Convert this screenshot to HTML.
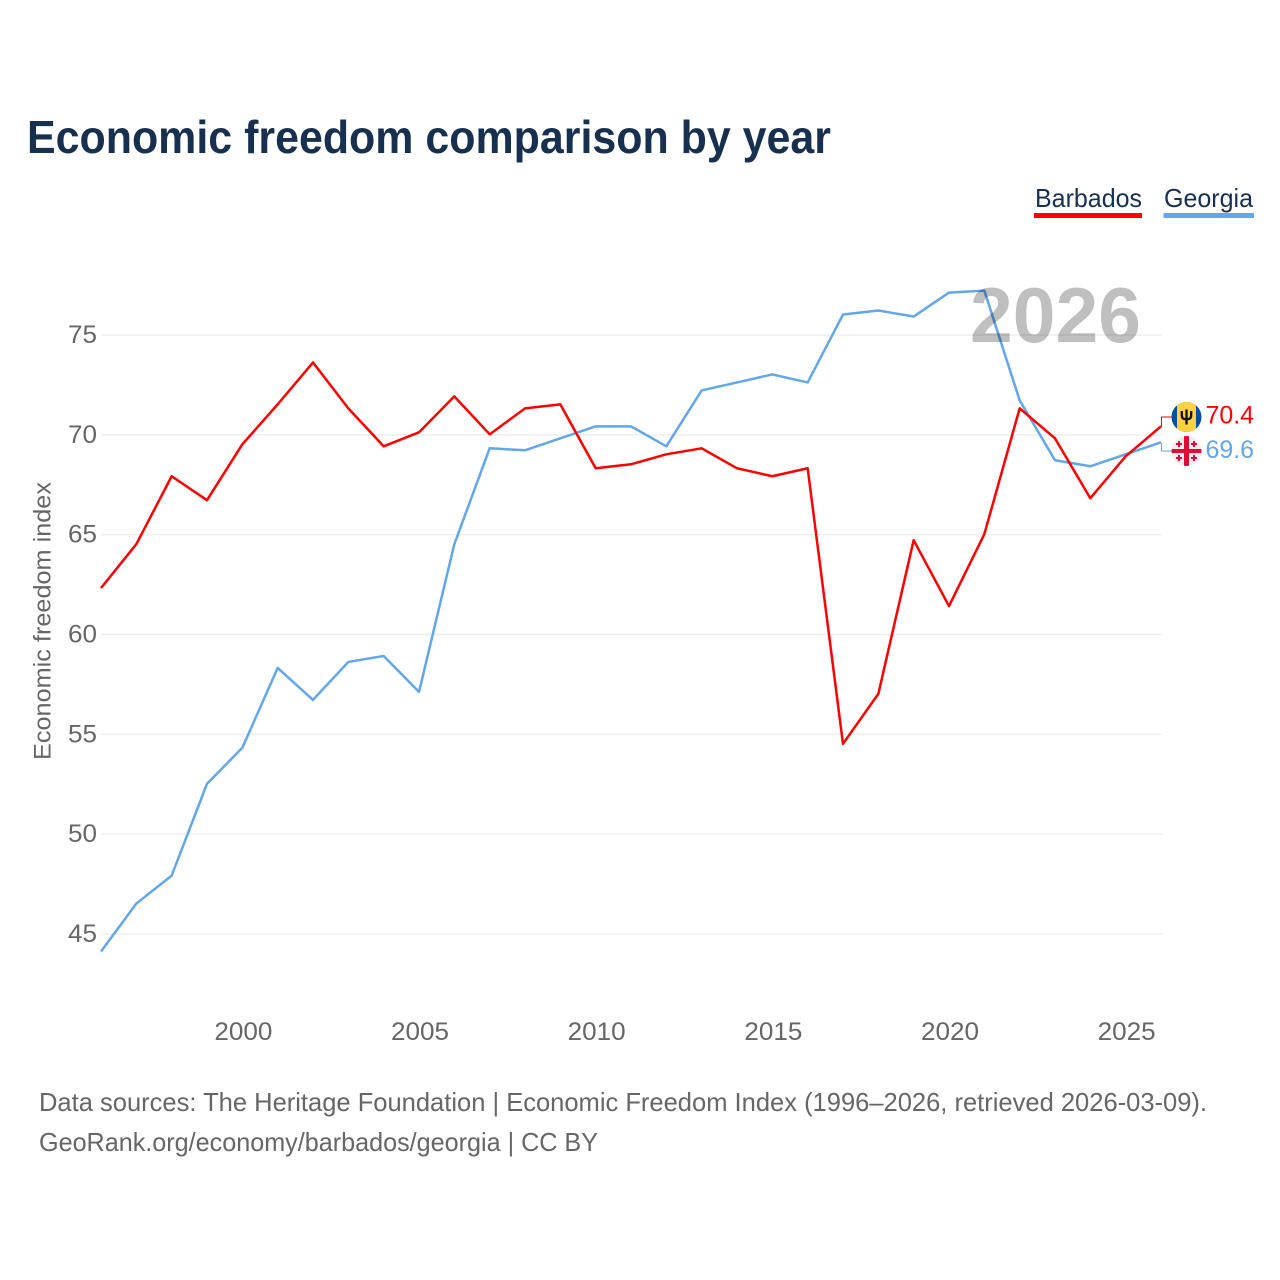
<!DOCTYPE html>
<html lang="en">
<head>
<meta charset="utf-8">
<title>Economic freedom comparison by year</title>
<style>
html,body{margin:0;padding:0;background:#fff;}
svg{display:block;}
text{font-family:"Liberation Sans",sans-serif;}
</style>
</head>
<body>
<svg id="chart" xmlns="http://www.w3.org/2000/svg" width="1280" height="1280" viewBox="0 0 1280 1280">
  <rect x="0" y="0" width="1280" height="1280" fill="#ffffff"/>
  <text x="27" y="153" font-size="46" font-weight="700" fill="#18304f" textLength="804" lengthAdjust="spacingAndGlyphs">Economic freedom comparison by year</text>

  <g>
    <text x="1035" y="207" font-size="26" fill="#18304f" textLength="107" lengthAdjust="spacingAndGlyphs">Barbados</text>
    <rect x="1034" y="213" width="108" height="5" fill="#ff0000"/>
  </g>
  <g>
    <text x="1164" y="207" font-size="26" fill="#18304f" textLength="89" lengthAdjust="spacingAndGlyphs">Georgia</text>
    <rect x="1163.5" y="213" width="90.5" height="5" fill="#62a6ec"/>
  </g>

  <g id="grid"></g>
  <g id="y-ticks"></g>
  <g id="x-ticks"></g>
  <text transform="translate(50.5 621) rotate(-90)" text-anchor="middle" font-size="24" fill="#666666" textLength="278" lengthAdjust="spacingAndGlyphs">Economic freedom index</text>

  <g id="series" transform="translate(-0.5 -0.5)"></g>
  <text x="970" y="342" font-size="78" font-weight="700" fill="#000000" fill-opacity="0.25" textLength="171" lengthAdjust="spacingAndGlyphs">2026</text>
  <g id="end-labels"></g>

  <g>
    <clipPath id="clip-bb"><circle cx="1186.5" cy="417" r="15"/></clipPath>
    <g clip-path="url(#clip-bb)">
      <rect x="1171" y="401" width="31" height="32" fill="#00509f"/>
      <rect x="1177" y="401" width="19" height="32" fill="#ffd23f"/>
      <path d="M1186.5 409.500v15M1181.800 411v4.500q0 3.800 4.700 3.800t4.700-3.800v-4.500" fill="none" stroke="#111111" stroke-width="2.300"/>
    </g>
  </g>
  <g>
    <clipPath id="clip-ge"><circle cx="1186.500" cy="451" r="15"/></clipPath>
    <g clip-path="url(#clip-ge)">
      <rect x="1171" y="435" width="31" height="32" fill="#eeeeee"/>
      <rect x="1184" y="435" width="5" height="32" fill="#e00b35"/>
      <rect x="1171" y="449" width="31" height="4" fill="#e00b35"/>
      <path d="M1178 441h2v2h2v2h-2v2h-2v-2h-2v-2h2zM1193 441h2v2h2v2h-2v2h-2v-2h-2v-2h2zM1178 455h2v2h2v2h-2v2h-2v-2h-2v-2h2zM1193 455h2v2h2v2h-2v2h-2v-2h-2v-2h2z" fill="#e00b35"/>
    </g>
  </g>

  <text x="39" y="1111" font-size="26" fill="#666666" textLength="1168" lengthAdjust="spacingAndGlyphs">Data sources: The Heritage Foundation | Economic Freedom Index (1996–2026, retrieved 2026-03-09).</text>
  <text x="39" y="1151" font-size="26" fill="#666666" textLength="559" lengthAdjust="spacingAndGlyphs">GeoRank.org/economy/barbados/georgia | CC BY</text>
</svg>
<script>
var years = [1996,1997,1998,1999,2000,2001,2002,2003,2004,2005,2006,2007,2008,2009,2010,2011,2012,2013,2014,2015,2016,2017,2018,2019,2020,2021,2022,2023,2024,2025,2026];
var barbados = [62.3,64.5,67.9,66.7,69.5,71.5,73.6,71.3,69.4,70.1,71.9,70.0,71.3,71.5,68.3,68.5,69.0,69.3,68.3,67.9,68.3,54.5,57.0,64.7,61.4,65.0,71.3,69.8,66.8,68.9,70.4];
var georgia = [44.1,46.5,47.9,52.5,54.3,58.3,56.7,58.6,58.9,57.1,64.5,69.3,69.2,69.8,70.4,70.4,69.4,72.2,72.6,73.0,72.6,76.0,76.2,75.9,77.1,77.2,71.7,68.7,68.4,69.0,69.6];
var yTickValues = [45,50,55,60,65,70,75];
var xTickValues = [2000,2005,2010,2015,2020,2025];

var NS = 'http://www.w3.org/2000/svg';
function xScale(year){ return 101.5 + (year - 1996) * (1161.5 - 101.5) / 30; }
function yScale(v){ return 934 + (v - 45) * (335 - 934) / 30; }
function make(tag, parent, attrs){
  var el = document.createElementNS(NS, tag);
  for (var k in attrs) el.setAttribute(k, attrs[k]);
  parent.appendChild(el);
  return el;
}
var grid = document.getElementById('grid');
var yTicks = document.getElementById('y-ticks');
var xTicks = document.getElementById('x-ticks');
var seriesGroup = document.getElementById('series');
var endLabels = document.getElementById('end-labels');

yTickValues.forEach(function(v){
  var line = make('line', grid, {x1:101.5, x2:1161.5, y1:yScale(v), y2:yScale(v), stroke:'#eeeeee', 'stroke-width':1.5});
  
  
  var t = make('text', yTicks, {x:97, y:yScale(v) + 8, 'text-anchor':'end', 'font-size':25, fill:'#666666', textLength:29, lengthAdjust:'spacingAndGlyphs'});
  t.textContent = v;
  
  
});
xTickValues.forEach(function(v){
  var t = make('text', xTicks, {x:xScale(v) + 0.5, y:1040, 'text-anchor':'middle', 'font-size':25, fill:'#666666', textLength:58, lengthAdjust:'spacingAndGlyphs'});
  t.textContent = v;
  
  
});

function pathFor(values){
  return values.map(function(v, i){
    return (i ? 'L' : 'M') + xScale(years[i]).toFixed(2) + ' ' + yScale(v).toFixed(2);
  }).join(' ');
}
var georgiaLine = make('path', seriesGroup, {d:pathFor(georgia), fill:'none', stroke:'#62a6ec', 'stroke-width':2.5, 'stroke-linejoin':'round'});


var barbadosLine = make('path', seriesGroup, {d:pathFor(barbados), fill:'none', stroke:'#ff0000', 'stroke-width':2.5, 'stroke-linejoin':'round'});



var lastB = barbados[barbados.length - 1];
var lastG = georgia[georgia.length - 1];
var lastX = xScale(years[years.length - 1]);
var connB = make('path', endLabels, {d:'M' + lastX + ' ' + yScale(lastB) + ' V417 H1172', fill:'none', stroke:'#ff0000', 'stroke-width':1});


var connG = make('path', endLabels, {d:'M' + lastX + ' ' + yScale(lastG) + ' V451 H1172', fill:'none', stroke:'#62a6ec', 'stroke-width':1});


var labelB = make('text', endLabels, {x:1205.5, y:423.5, 'font-size':25, fill:'#ff0000', textLength:48.5, lengthAdjust:'spacingAndGlyphs'});
labelB.textContent = lastB.toFixed(1);


var labelG = make('text', endLabels, {x:1205.5, y:458, 'font-size':25, fill:'#62a6ec', textLength:48.5, lengthAdjust:'spacingAndGlyphs'});
labelG.textContent = lastG.toFixed(1);


</script>
</body>
</html>
